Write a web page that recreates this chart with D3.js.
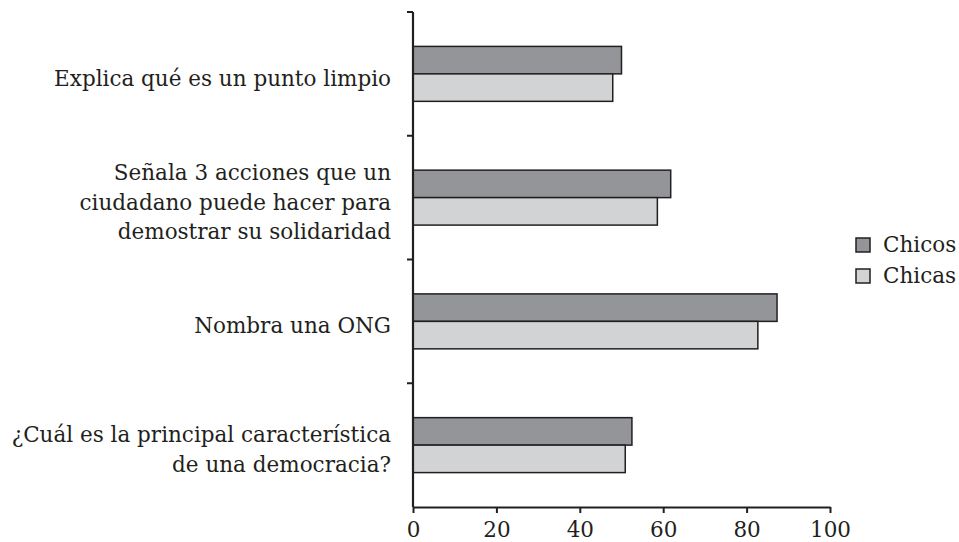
<!DOCTYPE html>
<html>
<head>
<meta charset="utf-8">
<script src="https://cdn.jsdelivr.net/npm/d3@7"></script>
<style>
  body { margin: 0; background: #fff; }
  text { font-family: "DejaVu Serif", serif; fill: #231f20; }
</style>
</head>
<body>
<div class="chart"></div>
<script>
var svgWidth = 959;
var svgHeight = 542;

// data
var questions = [
  ["Explica qué es un punto limpio"],
  ["Señala 3 acciones que un", "ciudadano puede hacer para", "demostrar su solidaridad"],
  ["Nombra una ONG"],
  ["¿Cuál es la principal característica", "de una democracia?"]
];
var seriesNames = ["Chicos", "Chicas"];
var chicos = [50, 61.8, 87.3, 52.5];
var chicas = [47.9, 58.6, 82.7, 50.9];
var xTicks = [0, 20, 40, 60, 80, 100];

var colors = ["#939598", "#d1d3d4"];
var ink = "#231f20";
var fontSize = 21.5;

var svg = d3.select(".chart")
  .append("svg")
  .attr("width", svgWidth)
  .attr("height", svgHeight);

// scales
var xScale = d3.scaleLinear()
  .domain([0, 100])
  .range([413, 830]);

var yScale = d3.scaleBand()
  .domain(d3.range(questions.length))
  .range([12, 507])
  .paddingInner(0.556)
  .paddingOuter(0.278);

var subScale = d3.scaleBand()
  .domain(seriesNames)
  .range([0, yScale.bandwidth()]);

var values = { "Chicos": chicos, "Chicas": chicas };

// bars
seriesNames.forEach(function(name, s) {
  svg.append("g")
    .selectAll("rect")
    .data(values[name])
    .enter()
    .append("rect")
    .attr("x", xScale(0))
    .attr("y", (d, i) => yScale(i) + subScale(name))
    .attr("width", d => xScale(d) - xScale(0))
    .attr("height", subScale.bandwidth())
    .attr("fill", colors[s])
    .attr("stroke", ink)
    .attr("stroke-width", 1.5);
});

// x axis
var xAxis = d3.axisBottom(xScale)
  .tickValues(xTicks)
  .tickSize(6)
  .tickSizeOuter(0)
  .tickPadding(9);

var xg = svg.append("g")
  .attr("transform", `translate(0, ${yScale.range()[1]})`)
  .call(xAxis);
xg.select(".domain").attr("stroke", ink).attr("stroke-width", 2.2);
xg.selectAll(".tick line").attr("stroke", ink).attr("stroke-width", 2);
xg.selectAll(".tick text")
  .attr("font-family", "DejaVu Serif")
  .attr("font-size", fontSize)
  .attr("fill", ink);

// y axis line with ticks between categories
var step = yScale.step();
var y0 = yScale.range()[0];
svg.append("line")
  .attr("x1", xScale(0)).attr("x2", xScale(0))
  .attr("y1", y0).attr("y2", yScale.range()[1])
  .attr("stroke", ink).attr("stroke-width", 2.2);

svg.append("g")
  .selectAll("line")
  .data(d3.range(questions.length))
  .enter()
  .append("line")
  .attr("x1", xScale(0) - 6).attr("x2", xScale(0))
  .attr("y1", d => y0 + d * step)
  .attr("y2", d => y0 + d * step)
  .attr("stroke", ink).attr("stroke-width", 2);

// category labels
var lineHeight = 29.5;
var labels = svg.append("g")
  .selectAll("text")
  .data(questions)
  .enter()
  .append("text")
  .attr("text-anchor", "end")
  .attr("font-size", fontSize)
  .attr("y", (d, i) => yScale(i) + yScale.bandwidth() / 2 + 12 - (d.length - 1) * lineHeight / 2);

labels.selectAll("tspan")
  .data(d => d)
  .enter()
  .append("tspan")
  .attr("x", 391)
  .attr("dy", (d, j) => j === 0 ? 0 : lineHeight)
  .text(d => d);

// legend
var legend = svg.append("g")
  .selectAll("g")
  .data(seriesNames)
  .enter()
  .append("g")
  .attr("transform", (d, i) => `translate(856, ${238 + i * 31})`);

legend.append("rect")
  .attr("width", 14)
  .attr("height", 14)
  .attr("fill", (d, i) => colors[i])
  .attr("stroke", ink)
  .attr("stroke-width", 1.5);

legend.append("text")
  .attr("x", 27)
  .attr("y", 14)
  .attr("font-size", fontSize)
  .text(d => d);
</script>
</body>
</html>
